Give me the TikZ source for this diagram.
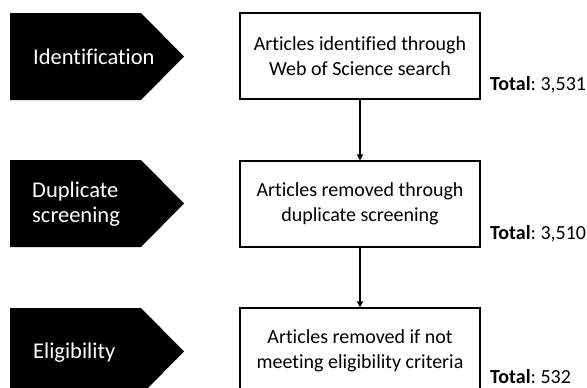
\documentclass[tikz,border=0pt]{standalone}
\usepackage{fontspec}
\setmainfont{Carlito}[Ligatures={NoCommon}]
\usetikzlibrary{arrows.meta}
\frenchspacing
\tikzset{
  px/.style={x=1pt,y=-1pt},
  stagebox/.style={draw=black, line width=1.2pt, fill=white, minimum width=240pt, minimum height=86pt, inner sep=0pt, align=center, font=\fontsize{20}{24.5}\selectfont},
  stagelabel/.style={text=white, anchor=west, align=left, inner sep=0pt, font=\fontsize{22.5}{25.5}\selectfont},
  totallabel/.style={anchor=west, inner sep=0pt, font=\fontsize{20}{25}\selectfont},
  flow/.style={line width=1.8pt, -{Triangle[length=6pt,width=6pt]}},
  pent/.style={fill=black}
}
\begin{document}
\begin{tikzpicture}[px]
\useasboundingbox (0,0) rectangle (587,388);
\clip (0,0) rectangle (587,388);
\fill[white] (0,0) rectangle (587,388);
% stage pentagons
\fill[pent] (10,13) -- (141,13) -- (184,56.5) -- (141,100) -- (10,100) -- cycle;
\fill[pent] (10,160) -- (141,160) -- (184,203.5) -- (141,247) -- (10,247) -- cycle;
\fill[pent] (10,308) -- (141,308) -- (184,351.5) -- (141,395) -- (10,395) -- cycle;
\node[stagelabel] (s1) at (33,57) {Identification};
\node[stagelabel] (s2) at (32,204) {Duplicate\\screening};
\node[stagelabel] (s3) at (33,353) {Eligibility};
% boxes
\node[stagebox] (b1) at (360,56) {Articles identified through\\Web of Science search};
\node[stagebox] (b2) at (360,204) {Articles removed through\\duplicate screening};
\node[stagebox] (b3) at (360,351) {Articles removed if not\\meeting eligibility criteria};
% totals
\node[totallabel] (t1) at (490,85) {\textbf{Total}: 3,531};
\node[totallabel] (t2) at (490,234) {\textbf{Total}: 3,510};
\node[totallabel] (t3) at (490,377) {\textbf{Total}: 532};
% connectors
\draw[flow] (b1.south) -- (b2.north);
\draw[flow] (b2.south) -- (b3.north);
\end{tikzpicture}
\end{document}
